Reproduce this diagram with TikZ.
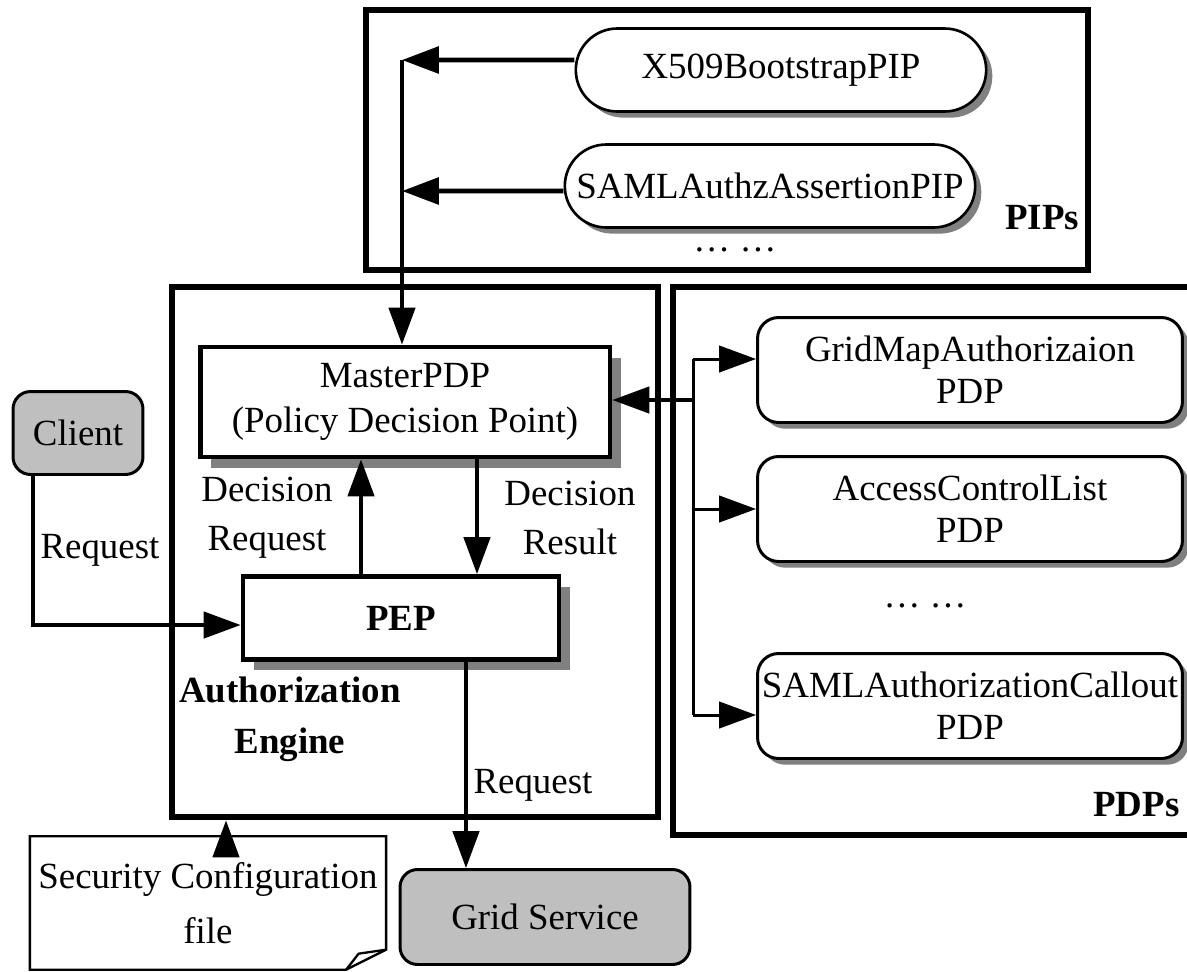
\documentclass[tikz,border=0pt]{standalone}
\usepackage{fontspec}
\setmainfont{Liberation Serif}
\usetikzlibrary{arrows.meta,shapes.misc,shadows,positioning}

\begin{document}
\begin{tikzpicture}[x=0.02cm,y=-0.02cm,->,>={Triangle[length=21pt,width=15pt]},
    line width=1.9pt,font=\fontsize{21}{26}\selectfont]
\tikzstyle{frame}=[draw,-,line width=3.4pt,inner sep=0pt]
\tikzstyle{shade}=[drop shadow={shadow xshift=3.5pt,shadow yshift=-3.5pt,fill=black!50,opacity=1}]
\tikzstyle{bigshade}=[drop shadow={shadow xshift=6pt,shadow yshift=-6pt,fill=black!50,opacity=1}]
\tikzstyle{pip}=[draw,rounded rectangle,line width=1.5pt,fill=white,shade,
    minimum width=8.35cm,minimum height=1.66cm,inner sep=2pt]
\tikzstyle{pdpbox}=[draw,rounded corners=12pt,line width=1.7pt,fill=white,shade,
    minimum width=8.5cm,minimum height=2.1cm,inner sep=1pt,align=center,
    font=\fontsize{21}{24}\selectfont]
\tikzstyle{core}=[draw,line width=2.8pt,fill=white,bigshade,align=center]
\tikzstyle{actor}=[draw,rounded corners=10pt,line width=1.7pt,fill=black!25]
\tikzstyle{lbl}=[align=center,font=\fontsize{21}{28}\selectfont]
\useasboundingbox (0,0) rectangle (1187,971);

% frames
\node[frame,minimum width=14.44cm,minimum height=5.2cm] (pips) at (727,140) {};
\node[frame,minimum width=9.72cm,minimum height=10.62cm] (engine) at (415,552) {};
\node[frame,minimum width=10.46cm,minimum height=10.96cm] (pdps) at (934,561) {};

% PIPs
\node[pip] (x509) at (781,70) {X509BootstrapPIP};
\node[pip] (samlpip) at (770,186) {SAMLAuthzAssertionPIP};
\node[font=\fontsize{21}{26}\bfseries] (piplbl) at (1042,218) {PIPs};
\node (pipdots) at (735,250) {\ldots\ \ldots};

% authorization engine
\node[core,minimum width=8.2cm,minimum height=2.2cm,font=\fontsize{21}{26}\selectfont]
    (pdp) at (405,402) {MasterPDP\\(Policy Decision Point)};
\node[core,minimum width=6.32cm,minimum height=1.66cm,font=\fontsize{21}{26}\bfseries]
    (pep) at (401,618) {PEP};
\node[lbl] (reqlbl) at (267,518) {Decision\\Request};
\node[lbl] (reslbl) at (570,518) {Decision\\Result};
\node[lbl,font=\fontsize{21}{29}\bfseries] (englbl) at (290,719) {Authorization\\Engine};

% PDPs
\node[pdpbox] (gridmap) at (970,370) {GridMapAuthorizaion\\PDP};
\node[pdpbox] (acl) at (970,509) {AccessControlList\\PDP};
\node (pdpdots) at (925,606) {\ldots\ \ldots};
\node[pdpbox] (samlpdp) at (970,706) {SAMLAuthorizationCallout\\PDP};
\node[font=\fontsize{21}{26}\bfseries,anchor=east] (pdplbl) at (1187,805) {PDPs};

% outside
\node[actor,minimum width=2.6cm,minimum height=1.66cm] (client) at (78,433) {Client};
\node[actor,minimum width=5.8cm,minimum height=1.9cm] (grid) at (545,917) {Grid Service};
\node[lbl,minimum width=7.06cm,minimum height=2.6cm,font=\fontsize{21}{31}\selectfont]
    (cfg) at (208,903) {Security Configuration\\file};
\draw[-,line width=1.3pt] (cfg.north west) -- (cfg.north east) -- ([yshift=0.4cm]cfg.south east)
    -- ([xshift=-0.8cm]cfg.south east) -- (cfg.south west) -- cycle;
\draw[-,line width=1.3pt] ([xshift=-0.8cm]cfg.south east) -- ([xshift=-0.55cm,yshift=0.32cm]cfg.south east)
    -- ([yshift=0.4cm]cfg.south east);

% connectors
\coordinate (pipbus) at (402,60);
\coordinate (pdpbus) at (693,400);
\draw[line width=2.8pt] ([yshift=0.2cm]x509.west) -- (pipbus);
\draw[line width=2.8pt] ([yshift=-0.1cm]samlpip.west) -- (pipbus |- 0,191);
\draw (pipbus) -- (pipbus |- pdp.north);
\draw (pdpbus) -- (pdpbus -| pdp.east);
\draw[-,line width=1.7pt] (pdpbus |- 0,359) -- (pdpbus |- 0,715);
\draw[line width=1.7pt] (pdpbus |- 0,359) -- (gridmap.west |- 0,359);
\draw[line width=1.7pt] (pdpbus |- acl.west) -- (acl.west);
\draw[line width=1.7pt] (pdpbus |- 0,715) -- (samlpdp.west |- 0,715);
\draw ([xshift=-0.8cm]pep.north) -- ([xshift=-0.8cm]pep.north |- pdp.south);
\draw ([xshift=1.44cm]pdp.south) -- ([xshift=1.44cm]pdp.south |- pep.north);
\draw ([xshift=-0.9cm]client.south) |- ([yshift=-0.14cm]pep.west)
    node[pos=0.25,right] {Request};
\draw ([xshift=1.3cm]pep.south) -- ([xshift=1.3cm]pep.south |- grid.north)
    node[pos=0.6,right] {Request};
\draw ([xshift=0.36cm]cfg.north) -- ([xshift=0.36cm]cfg.north |- engine.south);
\end{tikzpicture}
\end{document}
